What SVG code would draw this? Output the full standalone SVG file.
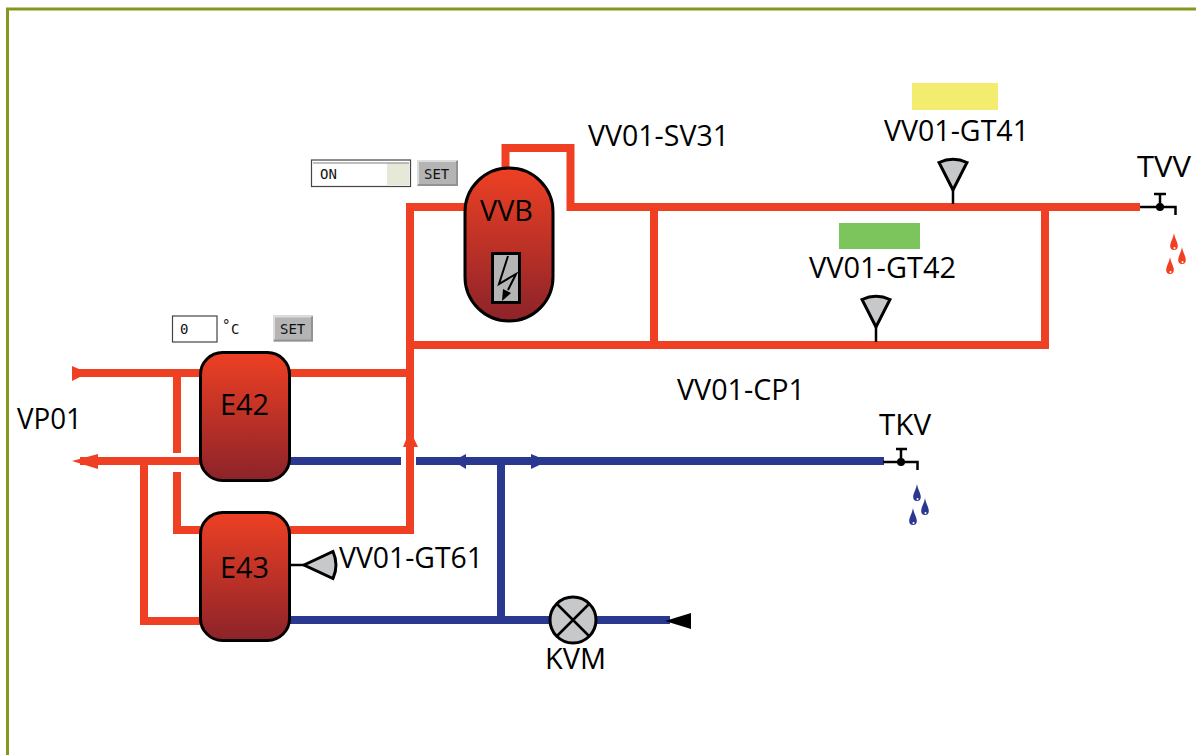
<svg xmlns="http://www.w3.org/2000/svg" width="1196" height="755" viewBox="0 0 1196 755">
<style>
.red{fill:none;stroke:#f04023;stroke-width:8}
.blue{fill:none;stroke:#2a388f;stroke-width:8}
.blk{fill:none;stroke:#000;stroke-width:2.5}
.sens{fill:#c6c8ca;stroke:#000;stroke-width:3;stroke-linejoin:miter}
.tank{fill:url(#tank);stroke:#000;stroke-width:3}
.t{font-family:"Open Sans","Noto Sans","Liberation Sans",sans-serif;font-size:30px;fill:#000}
.m{font-family:"DejaVu Sans Mono","Liberation Mono",monospace;font-size:14px;fill:#111}
.btn{fill:#b4b4b4}
.hi{fill:none;stroke:#dcdcdc;stroke-width:2}
.lo{fill:none;stroke:#939393;stroke-width:2}
</style>
<defs>
<linearGradient id="tank" x1="0" y1="0" x2="0" y2="1"><stop offset="0" stop-color="#ee4024"/><stop offset="1" stop-color="#8c2329"/></linearGradient>
<g id="dropR"><path d="M0,0C1,6 3.800,9 3.800,13A3.800,4 0 0 1 -3.800,13C-3.800,9 -1,6 0,0Z" fill="#f04023"/><circle cx="0.500" cy="15" r="1" fill="#fff"/></g>
<g id="dropB"><path d="M0,0C1,6 3.800,9 3.800,13A3.800,4 0 0 1 -3.800,13C-3.800,9 -1,6 0,0Z" fill="#2a388f"/><circle cx="0.500" cy="15" r="1" fill="#fff"/></g>
</defs>
<rect id="frame" x="7.500" y="9" width="1300" height="900" fill="#fff" stroke="#84981f" stroke-width="3"/>
<g id="connectors">
<path class="red" d="M505.500,170V148H570.500V207H1140"/>
<path class="red" d="M466,207H410V530H290"/>
<path class="red" d="M410,345H1045V207M654,207V345"/>
<path class="red" d="M75,373H200M290,373H410"/>
<path class="red" d="M200,461H80"/>
<path class="red" d="M177,377V453M177,472V530H200"/>
<path class="red" d="M144,461V621H200"/>
<path class="blue" d="M290,461H401M416,461H884"/>
<path class="blue" d="M501,461V620M290,620H670"/>
<path fill="#f04023" d="M72,366L86,372V374L72,381Z"/>
<path fill="#f04023" d="M72,461L98,454V469Z"/>
<path fill="#f04023" d="M410,430L418,447H403Z"/>
<path fill="#2a388f" d="M453,461L466,454V469Z"/>
<path fill="#2a388f" d="M548,461L531,454V469Z"/>
<path fill="#000" d="M665,621L691,613V629Z"/>
</g>
<g id="VVB">
<rect class="tank" x="465" y="168" width="88" height="153" rx="44" ry="44"/>
<text class="t" x="480" y="221" textLength="53" lengthAdjust="spacingAndGlyphs">VVB</text>
<rect x="492.500" y="253.500" width="27" height="49" fill="#b5b5b5" stroke="#000" stroke-width="3"/>
<path d="M508,256L499,284L516,274L508,290" fill="none" stroke="#000" stroke-width="2"/>
<path d="M502,301L503,289L511,293Z" fill="#000"/>
</g>
<g id="E42">
<rect class="tank" x="200.500" y="352.500" width="89" height="128" rx="22" ry="22"/>
<text class="t" x="220" y="415" textLength="49" lengthAdjust="spacingAndGlyphs">E42</text>
</g>
<g id="E43">
<rect class="tank" x="200.500" y="512.500" width="89" height="128" rx="22" ry="22"/>
<text class="t" x="220" y="578" textLength="49" lengthAdjust="spacingAndGlyphs">E43</text>
</g>
<g id="GT41">
<rect x="912" y="83" width="86" height="27" fill="#f3ec6e"/>
<text class="t" x="884" y="141" textLength="145" lengthAdjust="spacingAndGlyphs">VV01-GT41</text>
<path class="blk" d="M953,190V204"/>
<path class="sens" d="M953,190L939,162.500Q953,156 967,162.500Z"/>
</g>
<g id="GT42">
<rect x="839" y="223" width="81" height="26" fill="#7cc55c"/>
<text class="t" x="809" y="278" textLength="147" lengthAdjust="spacingAndGlyphs">VV01-GT42</text>
<path class="blk" d="M876,327V342"/>
<path class="sens" d="M876,327L862,299.500Q876,293 890,299.500Z"/>
</g>
<g id="GT61">
<path class="blk" d="M290,565H305"/>
<path class="sens" d="M304,565L333,551.500Q339,565 333,578.500Z"/>
<text class="t" x="339" y="568" textLength="144" lengthAdjust="spacingAndGlyphs">VV01-GT61</text>
</g>
<g id="SV31"><text class="t" x="588" y="146" textLength="141" lengthAdjust="spacingAndGlyphs">VV01-SV31</text></g>
<g id="CP1"><text class="t" x="677" y="400" textLength="128" lengthAdjust="spacingAndGlyphs">VV01-CP1</text></g>
<g id="VP01"><text class="t" x="17" y="429" textLength="65" lengthAdjust="spacingAndGlyphs">VP01</text></g>
<g id="KVM">
<circle cx="573" cy="620" r="23" fill="#c6c8ca" stroke="#000" stroke-width="3"/>
<path class="blk" d="M557,604L589,636M589,604L557,636"/>
<text class="t" x="545" y="669" textLength="61" lengthAdjust="spacingAndGlyphs">KVM</text>
</g>
<g id="TVV">
<text class="t" x="1137" y="177" textLength="54" lengthAdjust="spacingAndGlyphs">TVV</text>
<path class="blk" d="M1140,207H1175.500V215M1160,207V194M1154,194H1166"/>
<circle cx="1160" cy="207" r="4" fill="#000"/>
<use href="#dropR" x="1174" y="233"/><use href="#dropR" x="1182" y="247"/><use href="#dropR" x="1170" y="257"/>
</g>
<g id="TKV">
<text class="t" x="879" y="435" textLength="52" lengthAdjust="spacingAndGlyphs">TKV</text>
<path class="blk" d="M883,462H917.500V470M901,462V449M896,449H907"/>
<circle cx="901" cy="462" r="4" fill="#000"/>
<use href="#dropB" x="917" y="484"/><use href="#dropB" x="925" y="498"/><use href="#dropB" x="913" y="508"/>
</g>
<g id="switch">
<rect x="311.500" y="160" width="99" height="26.500" fill="#fff" stroke="#444" stroke-width="1.200"/>
<rect x="387" y="163" width="22" height="22" fill="#e6e8d8"/>
<path class="lo" d="M313,163H409" opacity=".6"/>
<text class="m" x="320" y="179">ON</text>
<rect class="btn" x="417" y="160" width="41" height="26"/>
<path class="hi" d="M418,185V161H457"/><path class="lo" d="M457,161V185H418"/>
<text class="m" x="424" y="179">SET</text>
</g>
<g id="setpoint">
<rect x="172.500" y="316" width="44.500" height="26" fill="#fff" stroke="#444" stroke-width="1.200"/>
<text class="m" x="180" y="334">0</text>
<text class="m" x="222" y="330">°<tspan x="231" y="334">C</tspan></text>
<rect class="btn" x="273" y="315.500" width="40" height="26"/>
<path class="hi" d="M274,340.500V316.500H312"/><path class="lo" d="M312,316.500V340.500H274"/>
<text class="m" x="280" y="334">SET</text>
</g>
</svg>
